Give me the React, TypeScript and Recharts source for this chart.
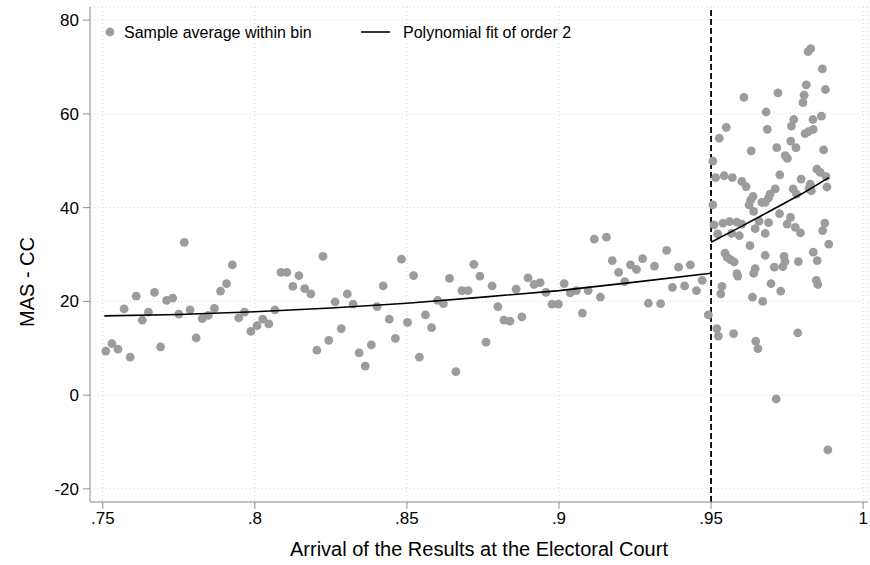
import { CartesianGrid, Label, ReferenceLine, Scatter, ScatterChart, XAxis, YAxis } from "recharts";

const xTicks = [0.75, 0.8, 0.85, 0.9, 0.95, 1];
const yTicks = [-20, 0, 20, 40, 60, 80];
const cutoff = 0.95;

// bins before the cutoff
const leftBinX = [
  0.751, 0.753, 0.755, 0.757, 0.759, 0.761, 0.763, 0.765, 0.767, 0.769,
  0.771, 0.773, 0.775, 0.7768, 0.7787, 0.7807, 0.7827, 0.7847, 0.7867, 0.7887,
  0.7907, 0.7926, 0.7947, 0.7966, 0.7987, 0.8007, 0.8026, 0.8046, 0.8066, 0.8086,
  0.8105, 0.8125, 0.8145, 0.8164, 0.8184, 0.8204, 0.8224, 0.8243, 0.8264, 0.8284,
  0.8304, 0.8323, 0.8343, 0.8363, 0.8383, 0.8402, 0.8422, 0.8442, 0.8462, 0.8482,
  0.8502, 0.8522, 0.8541, 0.8561, 0.8581, 0.8601, 0.862, 0.864, 0.8661, 0.8681,
  0.8701, 0.872, 0.874, 0.876, 0.878, 0.8799, 0.8819, 0.8839, 0.8859, 0.8878,
  0.8898, 0.8918, 0.8938, 0.8957, 0.8977, 0.8998, 0.9017, 0.9037, 0.9057, 0.9077,
  0.9096, 0.9116, 0.9136, 0.9156, 0.9175, 0.9196, 0.9216, 0.9235, 0.9255, 0.9275,
  0.9294, 0.9314, 0.9334, 0.9354, 0.9373, 0.9393, 0.9413, 0.9432, 0.9452, 0.9471,
  0.9491,
];
const leftBinY = [
  9.4, 11.0, 9.8, 18.4, 8.1, 21.1, 16.0, 17.7, 21.9, 10.3,
  20.2, 20.7, 17.3, 32.6, 18.2, 12.2, 16.3, 17.0, 18.5, 22.2,
  23.8, 27.8, 16.5, 17.7, 13.6, 14.8, 16.2, 15.2, 18.2, 26.2,
  26.2, 23.2, 25.5, 22.7, 21.6, 9.6, 29.6, 11.7, 19.9, 14.2,
  21.6, 19.4, 9.0, 6.2, 10.7, 18.9, 23.3, 16.2, 12.1, 29.0,
  15.5, 25.5, 8.1, 17.1, 14.4, 20.2, 19.5, 24.9, 5.0, 22.3,
  22.3, 27.9, 25.4, 11.3, 23.3, 18.9, 16.0, 15.8, 22.6, 16.7,
  25.0, 23.6, 24.0, 21.9, 19.4, 19.4, 23.8, 21.8, 22.3, 17.5,
  22.3, 33.3, 20.9, 33.7, 28.7, 26.2, 24.2, 27.8, 26.8, 29.1,
  19.6, 27.5, 19.5, 30.9, 23.0, 27.3, 23.3, 27.8, 22.3, 24.5,
  17.1,
];

// bins after the cutoff
const rightBinX = [
  0.9506, 0.9506, 0.951, 0.9515, 0.9519, 0.9522, 0.9524, 0.9527, 0.9532, 0.9536,
  0.9539, 0.9543, 0.9546, 0.955, 0.9553, 0.9561, 0.9564, 0.9568, 0.957, 0.9574,
  0.9576, 0.9585, 0.9585, 0.9588, 0.9593, 0.9601, 0.9601, 0.9608, 0.9615, 0.9625,
  0.9628, 0.963, 0.9632, 0.9636, 0.9638, 0.964, 0.964, 0.9645, 0.9645, 0.9647,
  0.9654, 0.9658, 0.9667, 0.967, 0.9678, 0.9678, 0.9678, 0.9681, 0.9685, 0.9689,
  0.9689, 0.9694, 0.9697, 0.9708, 0.9711, 0.9714, 0.9716, 0.972, 0.9725, 0.9726,
  0.9729, 0.9736, 0.974, 0.9743, 0.9744, 0.975, 0.9751, 0.9761, 0.9762, 0.9764,
  0.977, 0.9772, 0.9777, 0.9779, 0.9781, 0.9785, 0.9787, 0.9794, 0.9796, 0.9802,
  0.9806, 0.9809, 0.9813, 0.9819, 0.982, 0.9822, 0.9826, 0.9828, 0.983, 0.9835,
  0.9836, 0.9836, 0.9846, 0.9848, 0.9849, 0.9851, 0.9859, 0.9863, 0.9866, 0.9867,
  0.987, 0.9874, 0.9876, 0.9878, 0.9881, 0.9884, 0.9887,
];
const rightBinY = [
  49.9, 40.6, 36.3, 46.4, 14.2, 34.4, 12.6, 54.8, 21.6, 23.2,
  36.7, 46.8, 30.3, 57.1, 29.4, 37.0, 28.9, 34.5, 46.4, 13.1,
  28.4, 36.9, 25.9, 25.4, 34.0, 45.6, 36.5, 63.5, 44.5, 40.6,
  31.9, 41.6, 52.1, 20.9, 42.4, 39.2, 26.0, 35.5, 27.0, 11.5,
  9.9, 37.1, 41.1, 20.0, 41.1, 34.5, 29.8, 60.4, 56.7, 42.1,
  36.8, 42.9, 23.8, 27.3, 44.0, -0.8, 52.8, 64.5, 38.7, 47.0,
  22.2, 27.4, 29.6, 28.5, 51.1, 36.5, 50.5, 37.9, 54.2, 57.4,
  44.0, 58.8, 35.8, 52.8, 42.9, 13.3, 28.5, 34.6, 46.1, 62.4,
  64.0, 55.8, 66.2, 73.3, 56.2, 44.0, 45.0, 73.9, 43.6, 58.8,
  56.7, 30.5, 24.5, 48.2, 28.7, 23.6, 47.5, 59.5, 69.6, 35.1,
  52.3, 36.7, 65.2, 46.6, 44.4, -11.7, 32.2,
];

// quadratic fits
const fitLeftX = [0.7505, 0.775, 0.8, 0.825, 0.85, 0.875, 0.9, 0.925, 0.95];
const fitLeftY = [16.9, 17.2, 17.8, 18.6, 19.6, 20.9, 22.3, 24.1, 26.0];
const fitRightX = [0.95, 0.96, 0.97, 0.98, 0.9887];
const fitRightY = [32.6, 36.0, 39.5, 43.0, 46.4];

const toPoints = (xs: number[], ys: number[]) => xs.map((x, i) => ({ x, y: ys[i] }));
const bins = [...toPoints(leftBinX, leftBinY), ...toPoints(rightBinX, rightBinY)];
const fitLeft = toPoints(fitLeftX, fitLeftY);
const fitRight = toPoints(fitRightX, fitRightY);

const FONT = '"Liberation Sans", Arial, Helvetica, sans-serif';
const AXIS = "#8f8f8f";
const DOT = "#9c9c9c";

function fmtX(v: number) {
  return v === 1 ? "1" : String(v).replace(/^0/, "");
}

function Dot(props: any) {
  if (props.cx == null || props.cy == null) return <g />;
  return <circle cx={props.cx} cy={props.cy} r={4.4} fill={DOT} />;
}
const NoDot = () => <g />;

export default function App() {
  return (
    <div style={{ position: "relative", width: 870, height: 565, background: "#fff", fontFamily: FONT }}>
      <style>{`body{margin:0}`}</style>
      <ScatterChart width={870} height={565} margin={{ top: 7, right: 2, bottom: 0, left: 0 }}>
        <CartesianGrid stroke="#d4d4d4" strokeDasharray="1 3" />
        <XAxis
          type="number"
          dataKey="x"
          domain={[0.7458, 1.0016]}
          ticks={xTicks}
          tickFormatter={fmtX}
          allowDataOverflow
          height={63}
          stroke={AXIS}
          tickSize={7}
          tickMargin={3}
          tick={{ fill: "#000", fontSize: 17, fontFamily: FONT }}
        >
          <Label
            value="Arrival of the Results at the Electoral Court"
            position="insideBottom"
            offset={9}
            fill="#000"
            style={{ fontSize: 20, fontFamily: FONT }}
          />
        </XAxis>
        <YAxis
          type="number"
          dataKey="y"
          domain={[-22.8, 82.8]}
          ticks={yTicks}
          allowDataOverflow
          width={90}
          stroke={AXIS}
          tickSize={7}
          tickMargin={4}
          tick={{ fill: "#000", fontSize: 17, fontFamily: FONT }}
        >
          <Label
            content={() => (
              <text
                x={27}
                y={282}
                transform="rotate(-90 27 282)"
                textAnchor="middle"
                dominantBaseline="central"
                fontSize={20}
                fontFamily={FONT}
                fill="#000"
              >
                MAS - CC
              </text>
            )}
          />
        </YAxis>
        <ReferenceLine x={cutoff} stroke="#000" strokeWidth={1.8} strokeDasharray="6 3" />
        <Scatter data={bins} shape={Dot} isAnimationActive={false} />
        <Scatter
          data={fitLeft}
          shape={NoDot}
          line={{ stroke: "#000", strokeWidth: 1.6 }}
          lineType="joint"
          isAnimationActive={false}
        />
        <Scatter
          data={fitRight}
          shape={NoDot}
          line={{ stroke: "#000", strokeWidth: 1.6 }}
          lineType="joint"
          isAnimationActive={false}
        />
      </ScatterChart>
      <svg width={870} height={60} style={{ position: "absolute", left: 0, top: 0, pointerEvents: "none" }}>
        <circle cx={110} cy={32} r={4.4} fill={DOT} />
        <text x={124} y={38} fontSize={16} fontFamily={FONT} fill="#000">
          Sample average within bin
        </text>
        <line x1={361} x2={390} y1={32} y2={32} stroke="#000" strokeWidth={1.6} />
        <text x={403} y={38} fontSize={16} fontFamily={FONT} fill="#000">
          Polynomial fit of order 2
        </text>
      </svg>
    </div>
  );
}
